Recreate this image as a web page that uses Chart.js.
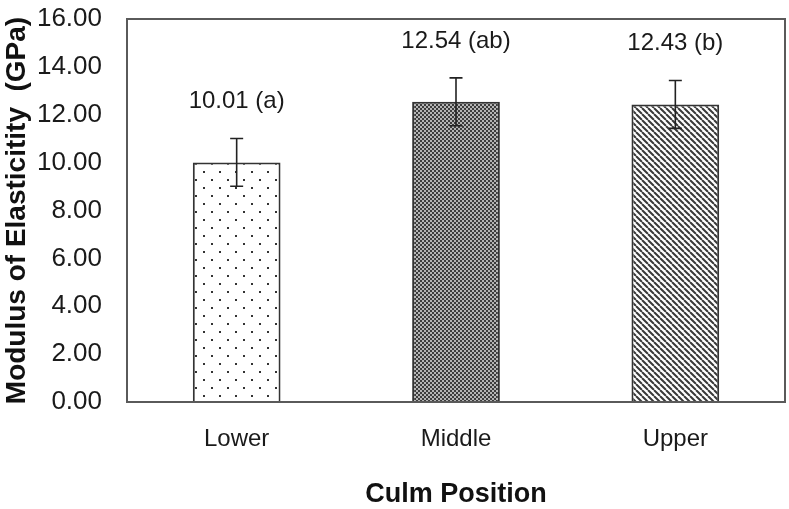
<!DOCTYPE html>
<html>
<head>
<meta charset="utf-8">
<script src="https://cdn.jsdelivr.net/npm/chart.js@4.4.1/dist/chart.umd.min.js"></script>
<style>
  html, body { margin: 0; padding: 0; background: #fff; }
  #wrap { width: 789px; height: 509px; }
</style>
</head>
<body>
<div id="wrap"><canvas id="chart" width="789" height="509"></canvas></div>
<script>
// data
const positions = ["Lower", "Middle", "Upper"];
const moe = [10.01, 12.54, 12.43];
const moeErr = [1.0, 1.0, 1.0];
const letters = ["(a)", "(ab)", "(b)"];
const yTicks = [0, 2, 4, 6, 8, 10, 12, 14, 16];

const FONT = "'Liberation Sans', Arial, sans-serif";

function tile(size, draw) {
  const c = document.createElement("canvas");
  c.width = size; c.height = size;
  const g = c.getContext("2d");
  draw(g, size);
  return document.getElementById("chart").getContext("2d").createPattern(c, "repeat");
}

// dotted fill
const dots = tile(16, (g, s) => {
  g.fillStyle = "#fff"; g.fillRect(0, 0, s, s);
  g.fillStyle = "#333";
  g.fillRect(3, 3, 2, 2);
  g.fillRect(11, 11, 2, 2);
});
// fine checker fill
const checker = tile(4, (g, s) => {
  g.fillStyle = "#b4b4b4"; g.fillRect(0, 0, s, s);
  g.fillStyle = "#3c3c3c";
  g.fillRect(0, 0, 2, 2);
  g.fillRect(2, 2, 2, 2);
});
// diagonal stripes
const stripes = tile(6, (g, s) => {
  g.fillStyle = "#fff"; g.fillRect(0, 0, s, s);
  g.strokeStyle = "#3a3a3a"; g.lineWidth = 2;
  g.beginPath();
  for (let k = -1; k <= 1; k++) {
    g.moveTo(k * s, 0);
    g.lineTo(k * s + s, s);
  }
  g.stroke();
});

const frame = {
  id: "frame",
  afterDraw(chart) {
    const { ctx, chartArea: a } = chart;
    ctx.save();
    ctx.strokeStyle = "#5a5a5a";
    ctx.lineWidth = 2;
    ctx.strokeRect(a.left, a.top, a.right - a.left, a.bottom - a.top);
    ctx.restore();
  }
};

const errBars = {
  id: "errBars",
  afterDatasetsDraw(chart) {
    const { ctx } = chart;
    const y = chart.scales.y;
    const meta = chart.getDatasetMeta(0);
    ctx.save();
    ctx.strokeStyle = "#222";
    ctx.lineWidth = 1.6;
    ctx.fillStyle = "#1a1a1a";
    ctx.font = "24px " + FONT;
    ctx.textAlign = "center";
    ctx.textBaseline = "middle";
    meta.data.forEach((bar, i) => {
      const x = bar.x;
      const hi = y.getPixelForValue(moe[i] + moeErr[i]);
      const lo = y.getPixelForValue(moe[i] - moeErr[i]);
      ctx.beginPath();
      ctx.moveTo(x, hi); ctx.lineTo(x, lo);
      ctx.moveTo(x - 6.5, hi); ctx.lineTo(x + 6.5, hi);
      ctx.moveTo(x - 6.5, lo); ctx.lineTo(x + 6.5, lo);
      ctx.stroke();
      ctx.fillText(moe[i].toFixed(2) + " " + letters[i], x, hi - 37);
    });
    ctx.restore();
  }
};

new Chart(document.getElementById("chart"), {
  type: "bar",
  data: {
    labels: positions,
    datasets: [{
      data: moe,
      backgroundColor: [dots, checker, stripes],
      borderColor: "#333",
      borderWidth: 2,
      categoryPercentage: 1.0,
      barPercentage: 0.4
    }]
  },
  options: {
    responsive: false,
    animation: false,
    layout: { padding: { top: 19, right: 4, left: 0, bottom: 0 } },
    plugins: { legend: { display: false }, tooltip: { enabled: false } },
    scales: {
      x: {
        grid: { display: false, drawTicks: false },
        border: { display: false },
        ticks: { color: "#1a1a1a", padding: 23, font: { size: 24, family: FONT } },
        title: {
          display: true, text: "Culm Position", color: "#111",
          font: { size: 27, weight: "bold", family: FONT },
          padding: { top: 0, bottom: -2 }
        },
        afterFit(s) { s.height = 107; s.paddingLeft = 0; s.paddingRight = 0; }
      },
      y: {
        min: 0, max: 16,
        afterBuildTicks(s) { s.ticks = yTicks.map(v => ({ value: v })); },
        grid: { display: false, drawTicks: false },
        border: { display: false },
        ticks: {
          color: "#1a1a1a", padding: 25,
          font: { size: 26, family: FONT },
          callback: v => Number(v).toFixed(2)
        },
        title: {
          display: true, text: "Modulus of Elasticitity  (GPa)", color: "#111",
          font: { size: 28, weight: "bold", family: FONT },
          padding: { top: 0, bottom: 0 }
        },
        afterFit(s) { s.width = 127; s.paddingTop = 0; s.paddingBottom = 0; }
      }
    }
  },
  plugins: [frame, errBars]
});
</script>
</body>
</html>
